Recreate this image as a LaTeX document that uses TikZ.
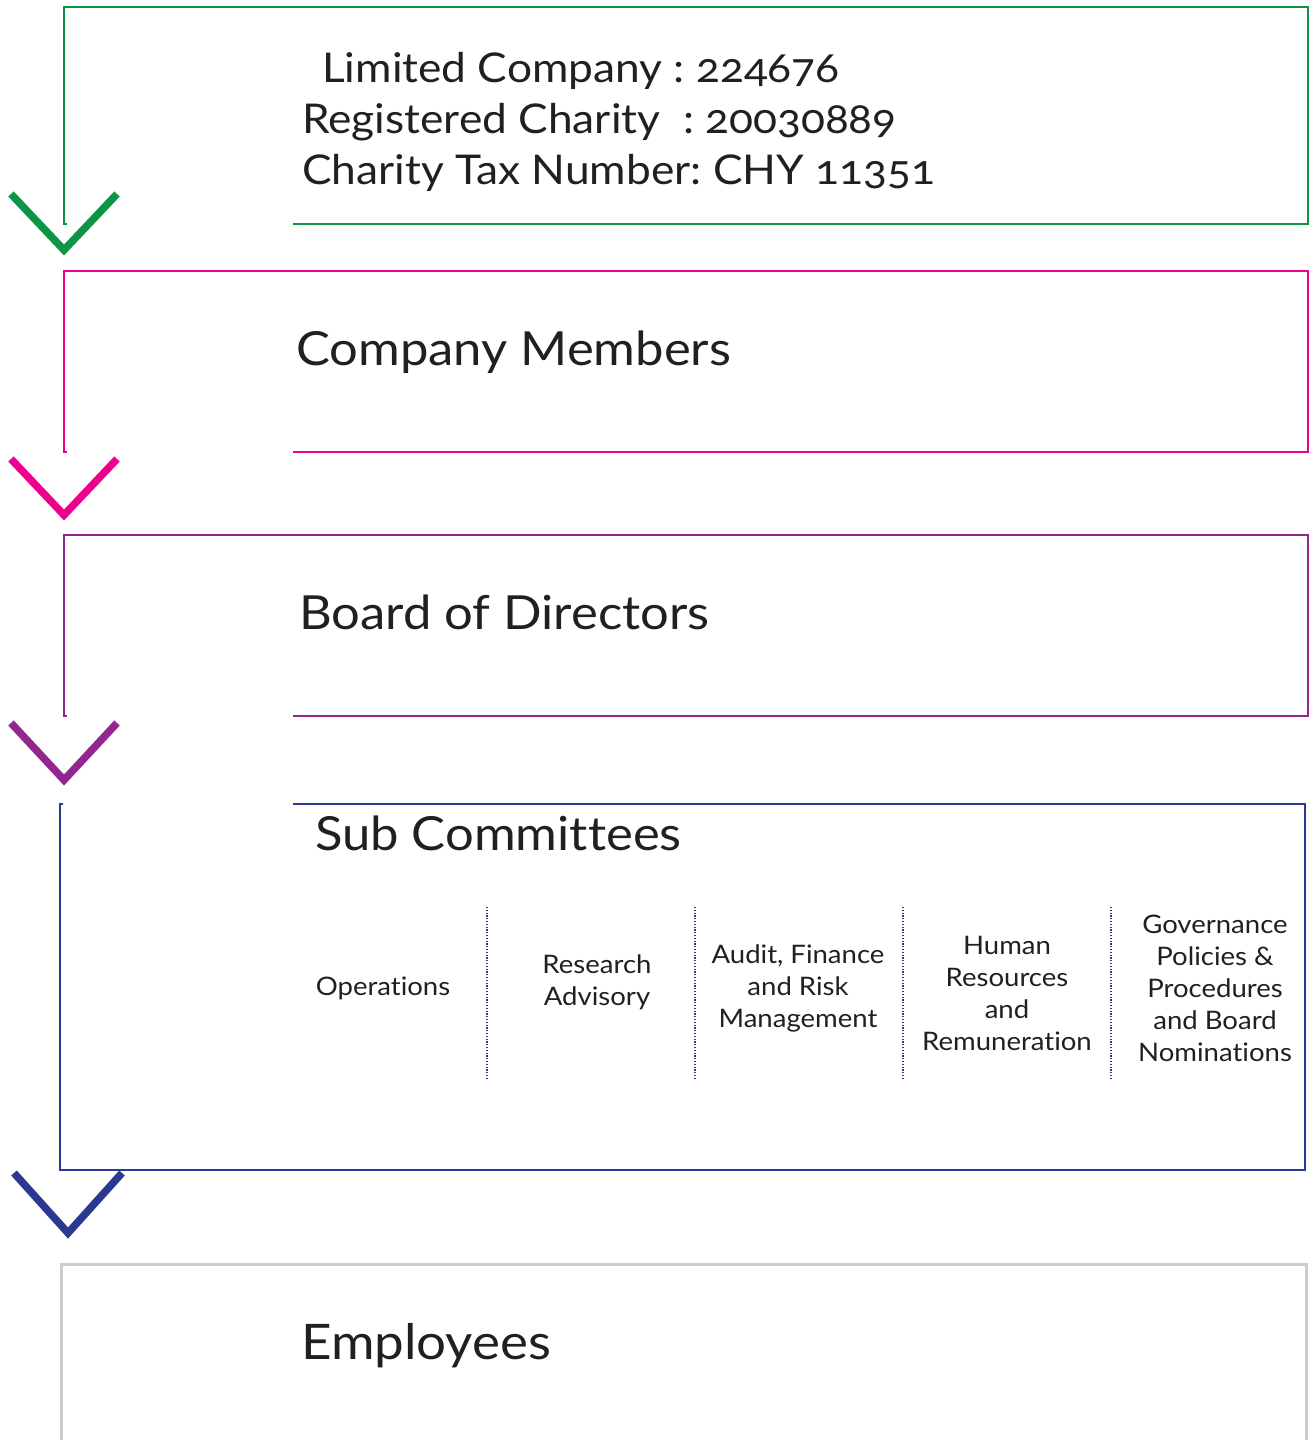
\documentclass[tikz,border=0pt]{standalone}
\usepackage{fontspec}
\setmainfont{Lato}[Numbers=OldStyle, Ligatures=NoCommon, FakeStretch=1.08]
\frenchspacing
\definecolor{cgreen}{HTML}{0E9447}
\definecolor{cmagenta}{HTML}{EC008C}
\definecolor{cpurple}{HTML}{92278F}
\definecolor{cnavy}{HTML}{2B3990}
\definecolor{cgray}{HTML}{CCCCCC}
\definecolor{ctext}{HTML}{231F20}
\tikzset{
  boxline/.style={line width=2.5pt, line join=miter},
  chev/.style={line width=7.5pt, line join=miter, line cap=butt, miter limit=10},
  title/.style={anchor=base west, inner sep=0pt, text=ctext, font=\fontsize{47}{52}\selectfont},
  info/.style={anchor=base west, inner sep=0pt, text=ctext, font=\fontsize{41}{51}\selectfont},
  col/.style={align=center, inner sep=0pt, text=ctext, font=\fontsize{25.5}{32}\selectfont},
  sep/.style={cnavy, line width=1.2pt, dash pattern=on 1.2pt off 1.6pt}
}
\begin{document}
\begin{tikzpicture}[x=1pt,y=-1pt]
\useasboundingbox (0,0) rectangle (1311,1440);
% box 1
\draw[boxline, cgreen] (67,224) -- (64,224) -- (64,7) -- (1308,7) -- (1308,224) -- (293,224);
\node[info] (l1) at (322,82) {Limited Company : 224676};
\node[info] (l2) at (302,133) {Registered Charity\ \ : 20030889};
\node[info] (l3) at (302,184) {Charity Tax Number: CHY 11351};
\draw[chev, cgreen] (11,194) -- (64,250) -- (117,194);
% box 2
\draw[boxline, cmagenta] (67,452) -- (64,452) -- (64,271) -- (1308,271) -- (1308,452) -- (293,452);
\node[title] (members) at (296,365) {Company Members};
\draw[chev, cmagenta] (11,459) -- (64,515) -- (117,459);
% box 3
\draw[boxline, cpurple] (67,716) -- (64,716) -- (64,535) -- (1308,535) -- (1308,716) -- (293,716);
\node[title] (board) at (299,629) {Board of Directors};
\draw[chev, cpurple] (11,723) -- (64,780) -- (117,723);
% box 4
\draw[boxline, cnavy] (63,804) -- (60,804) -- (60,1170) -- (1305,1170) -- (1305,804) -- (293,804);
\node[title] (sub) at (315,850) {Sub Committees};
\foreach \x/\n in {487/s1,695/s2,903/s3,1111/s4}{
  \coordinate (\n a) at (\x,907);
  \coordinate (\n b) at (\x,1080);
  \draw[sep] (\n a) -- (\n b);
}
\node[col] (ops) at (383,988) {Operations};
\node[col] (res) at (597,982) {Research\\Advisory};
\node[col] (aud) at (798,988) {Audit, Finance\\and Risk\\Management};
\node[col] (hum) at (1007,993) {Human\\Resources\\and\\Remuneration};
\node[col] (gov) at (1215,988) {Governance\\Policies \&\\Procedures\\and Board\\Nominations};
\draw[chev, cnavy] (14,1173) -- (68,1233) -- (122,1173);
% box 5
\draw[line width=3pt, cgray, line join=miter] (61,1450) -- (61,1264) -- (1306,1264) -- (1306,1450);
\node[title, font=\fontsize{49}{54}\selectfont] (emp) at (301,1359) {Employees};
\end{tikzpicture}
\end{document}
